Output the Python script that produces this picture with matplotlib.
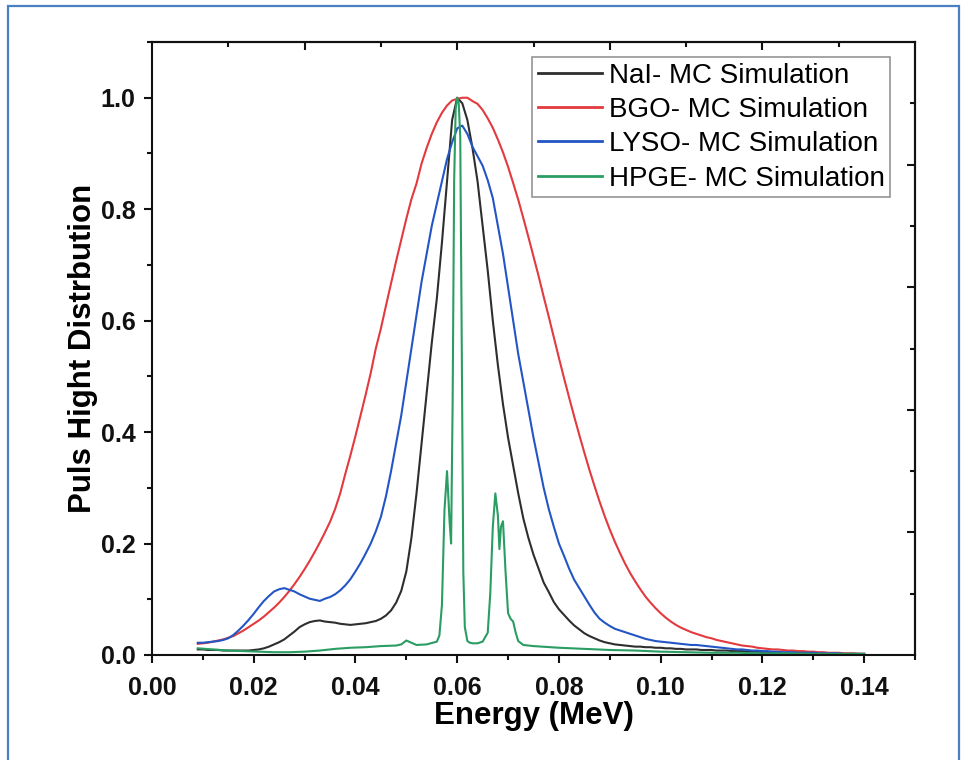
import numpy as np
import matplotlib
matplotlib.use("Agg")
import matplotlib.pyplot as plt
from matplotlib.ticker import MultipleLocator, FixedLocator
from matplotlib.patches import Rectangle

plt.rcParams['font.family'] = ['Liberation Sans', 'DejaVu Sans']

# Energy bins (MeV), 1 keV wide, shared by the scintillator spectra
energy = np.round(np.arange(9, 141) * 0.001, 3)

nai = [0.010, 0.010, 0.009, 0.009, 0.009, 0.008, 0.008, 0.008, 0.008, 0.008,
       0.008, 0.009, 0.010, 0.012, 0.015, 0.019, 0.023, 0.028, 0.035, 0.042,
       0.050, 0.055, 0.059, 0.061, 0.062, 0.060, 0.059, 0.058, 0.056, 0.055,
       0.054, 0.055, 0.056, 0.057, 0.059, 0.061, 0.065, 0.071, 0.080, 0.094,
       0.115, 0.150, 0.210, 0.290, 0.380, 0.470, 0.560, 0.640, 0.740, 0.850,
       0.960, 1.000, 0.990, 0.960, 0.910, 0.850, 0.770, 0.690, 0.600, 0.520,
       0.450, 0.390, 0.340, 0.290, 0.245, 0.210, 0.180, 0.155, 0.130, 0.113,
       0.095, 0.082, 0.072, 0.062, 0.053, 0.046, 0.039, 0.034, 0.030, 0.026,
       0.023, 0.021, 0.019, 0.018, 0.017, 0.016, 0.015, 0.015, 0.014, 0.014,
       0.013, 0.013, 0.012, 0.012, 0.011, 0.011, 0.010, 0.010, 0.010, 0.009,
       0.009, 0.009, 0.008, 0.008, 0.008, 0.007, 0.007, 0.007, 0.006, 0.006,
       0.006, 0.005, 0.005, 0.005, 0.005, 0.004, 0.004, 0.004, 0.004, 0.003,
       0.003, 0.003, 0.003, 0.003, 0.002, 0.002, 0.002, 0.002, 0.002, 0.002,
       0.002, 0.002]

bgo = [0.020, 0.021, 0.022, 0.024, 0.026, 0.028, 0.031, 0.034, 0.039, 0.044,
       0.050, 0.056, 0.062, 0.069, 0.077, 0.085, 0.094, 0.104, 0.115, 0.127,
       0.140, 0.154, 0.169, 0.185, 0.202, 0.220, 0.239, 0.262, 0.290, 0.325,
       0.358, 0.393, 0.430, 0.467, 0.506, 0.550, 0.586, 0.627, 0.667, 0.707,
       0.745, 0.783, 0.818, 0.846, 0.882, 0.910, 0.935, 0.956, 0.973, 0.986,
       0.995, 0.998, 1.000, 1.000, 0.994, 0.989, 0.978, 0.963, 0.946, 0.925,
       0.902, 0.876, 0.847, 0.817, 0.784, 0.750, 0.715, 0.680, 0.643, 0.607,
       0.570, 0.533, 0.497, 0.462, 0.428, 0.395, 0.363, 0.332, 0.303, 0.275,
       0.249, 0.225, 0.203, 0.183, 0.164, 0.147, 0.132, 0.118, 0.105, 0.094,
       0.084, 0.075, 0.067, 0.060, 0.054, 0.049, 0.045, 0.041, 0.038, 0.035,
       0.032, 0.030, 0.027, 0.025, 0.023, 0.021, 0.019, 0.017, 0.016, 0.015,
       0.013, 0.012, 0.011, 0.010, 0.010, 0.009, 0.008, 0.008, 0.007, 0.007,
       0.006, 0.006, 0.005, 0.005, 0.004, 0.004, 0.004, 0.003, 0.003, 0.003,
       0.002, 0.002]

lyso = [0.022, 0.022, 0.023, 0.024, 0.025, 0.027, 0.030, 0.036, 0.044, 0.053,
        0.063, 0.074, 0.086, 0.097, 0.106, 0.114, 0.118, 0.120, 0.117, 0.114,
        0.109, 0.105, 0.101, 0.099, 0.097, 0.101, 0.104, 0.109, 0.116, 0.125,
        0.136, 0.150, 0.165, 0.182, 0.200, 0.222, 0.248, 0.285, 0.330, 0.380,
        0.430, 0.490, 0.550, 0.610, 0.670, 0.720, 0.770, 0.810, 0.850, 0.890,
        0.920, 0.945, 0.950, 0.935, 0.912, 0.895, 0.878, 0.852, 0.820, 0.770,
        0.720, 0.660, 0.600, 0.540, 0.490, 0.440, 0.390, 0.345, 0.300, 0.262,
        0.230, 0.200, 0.178, 0.155, 0.135, 0.120, 0.105, 0.090, 0.076, 0.065,
        0.058, 0.052, 0.047, 0.044, 0.041, 0.038, 0.035, 0.032, 0.029, 0.027,
        0.025, 0.024, 0.023, 0.022, 0.021, 0.020, 0.019, 0.018, 0.018, 0.017,
        0.016, 0.015, 0.014, 0.013, 0.012, 0.011, 0.010, 0.010, 0.009, 0.008,
        0.008, 0.007, 0.007, 0.006, 0.006, 0.005, 0.005, 0.005, 0.004, 0.004,
        0.004, 0.004, 0.003, 0.003, 0.003, 0.003, 0.003, 0.002, 0.002, 0.002,
        0.002, 0.002]

# HPGE spectrum on a finer grid around the photopeak and escape peaks
hpge_energy = [0.009, 0.012, 0.015, 0.018, 0.021, 0.024, 0.027, 0.030, 0.033, 0.036,
               0.039, 0.042, 0.045, 0.048, 0.049, 0.050, 0.051, 0.052, 0.054, 0.056,
               0.0565, 0.057, 0.0575, 0.0580, 0.0585, 0.0588, 0.0591, 0.0594, 0.0597, 0.0600,
               0.0603, 0.0606, 0.0609, 0.0612, 0.0615, 0.0620, 0.0625, 0.063, 0.064, 0.065,
               0.066, 0.0665, 0.067, 0.0675, 0.068, 0.0683, 0.0686, 0.069, 0.0695, 0.070,
               0.0705, 0.071, 0.0715, 0.072, 0.073, 0.075, 0.080, 0.085, 0.090, 0.095,
               0.100, 0.105, 0.110, 0.115, 0.120, 0.125, 0.130, 0.135, 0.140]
hpge = [0.012, 0.010, 0.008, 0.007, 0.006, 0.005, 0.005, 0.006, 0.008, 0.011,
        0.013, 0.014, 0.016, 0.017, 0.019, 0.026, 0.022, 0.018, 0.019, 0.024,
        0.035, 0.090, 0.260, 0.330, 0.240, 0.200, 0.450, 0.850, 0.980, 1.000,
        0.990, 0.930, 0.550, 0.150, 0.050, 0.025, 0.022, 0.021, 0.021, 0.024,
        0.040, 0.110, 0.230, 0.290, 0.250, 0.190, 0.230, 0.240, 0.150, 0.075,
        0.065, 0.060, 0.040, 0.025, 0.018, 0.016, 0.013, 0.011, 0.009, 0.008,
        0.006, 0.005, 0.004, 0.004, 0.003, 0.003, 0.002, 0.002, 0.002]

labels = ["NaI- MC Simulation", "BGO- MC Simulation",
          "LYSO- MC Simulation", "HPGE- MC Simulation"]
colors = ["#2e2e2e", "#e23a3e", "#2356c4", "#2a9d63"]

fig = plt.figure(figsize=(9.68, 7.6), dpi=100)
ax = fig.add_axes([152 / 968, 1 - 655 / 760, (915 - 152) / 968, (655 - 42) / 760])

lw = 1.5
ax.plot(energy, nai, color=colors[0], lw=lw, label=labels[0])
ax.plot(energy, bgo, color=colors[1], lw=lw, label=labels[1])
ax.plot(energy, lyso, color=colors[2], lw=lw, label=labels[2])
ax.plot(hpge_energy, hpge, color=colors[3], lw=lw, label=labels[3])

ax.set_xlim(0, 0.15)
ax.set_ylim(0, 1.1)

ax.xaxis.set_major_locator(FixedLocator([0.00, 0.02, 0.04, 0.06, 0.08, 0.10, 0.12, 0.14]))
ax.xaxis.set_minor_locator(MultipleLocator(0.01))
ax.yaxis.set_major_locator(FixedLocator([0.0, 0.2, 0.4, 0.6, 0.8, 1.0]))
ax.yaxis.set_minor_locator(MultipleLocator(0.1))
ax.set_xticklabels(["0.00", "0.02", "0.04", "0.06", "0.08", "0.10", "0.12", "0.14"])
ax.set_yticklabels(["0.0", "0.2", "0.4", "0.6", "0.8", "1.0"])

for s in ax.spines.values():
    s.set_linewidth(1.5)
    s.set_color("#111111")

ax.tick_params(which="major", direction="out", length=6, width=1.5,
               labelsize=18, colors="#111111")
ax.tick_params(axis="x", which="major", pad=9)
ax.tick_params(axis="y", which="major", pad=6)
ax.tick_params(which="minor", direction="out", length=3.5, width=1.5, colors="#111111")
for t in ax.get_xticklabels() + ax.get_yticklabels():
    t.set_fontweight("bold")

# linked top / right axes with their own inward ticks
top = ax.secondary_xaxis("top")
top.set_xticks([0.03, 0.06, 0.09, 0.12])
top.xaxis.set_minor_locator(FixedLocator([0.015, 0.045, 0.075, 0.105, 0.135]))
top.set_xticklabels([])
top.tick_params(which="major", direction="in", length=6, width=1.5, colors="#111111")
top.tick_params(which="minor", direction="in", length=3.5, width=1.5, colors="#111111")
top.spines["top"].set_linewidth(1.5)

right = ax.secondary_yaxis("right")
right.set_yticks([0.22, 0.44, 0.66, 0.88])
right.yaxis.set_minor_locator(FixedLocator([0.11, 0.33, 0.55, 0.77, 0.99]))
right.set_yticklabels([])
right.tick_params(which="major", direction="in", length=6, width=1.5, colors="#111111")
right.tick_params(which="minor", direction="in", length=3.5, width=1.5, colors="#111111")
right.spines["right"].set_linewidth(1.5)

ax.set_xlabel("Energy (MeV)", fontsize=22.5, fontweight="bold", labelpad=1)
ax.set_ylabel("Puls Hight Distrbution", fontsize=22.5, fontweight="bold", labelpad=2)

leg = ax.legend(loc="upper right", bbox_to_anchor=(890 / 968, 1 - 57 / 760),
                bbox_transform=fig.transFigure, fontsize=20, frameon=True,
                fancybox=False, edgecolor="#7a7a7a", handlelength=2.3,
                handletextpad=0.25, labelspacing=0.3, borderpad=0.2,
                borderaxespad=0)
leg.get_frame().set_linewidth(1.2)
for line in leg.get_lines():
    line.set_linewidth(2.0)

# thin blue frame around the figure
fig.patches.append(Rectangle((8 / 968, -0.05), (959 - 8) / 968, 1 - 6 / 760 + 0.05,
                             transform=fig.transFigure, fill=False,
                             edgecolor="#4a7fc1", linewidth=1.6))

fig.savefig("out.png", dpi=100)
